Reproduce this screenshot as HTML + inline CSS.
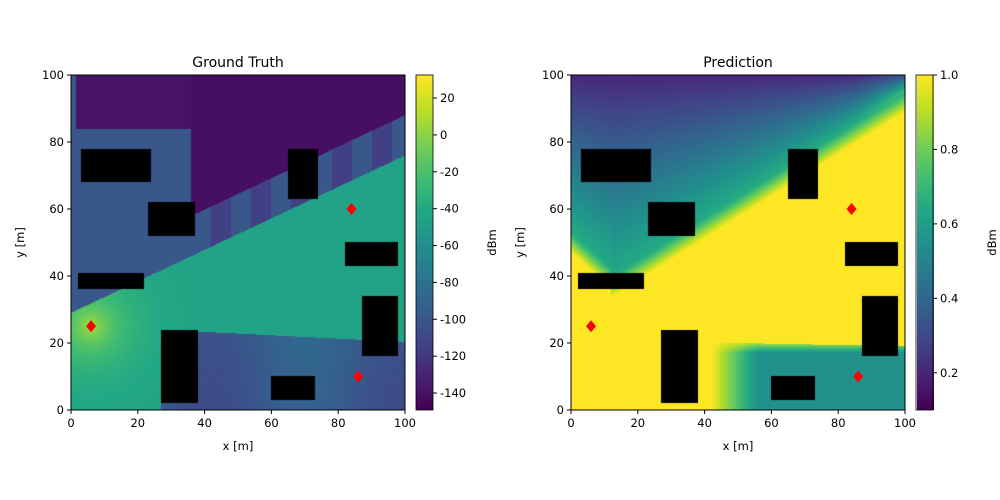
<!DOCTYPE html>
<html><head><meta charset="utf-8"><style>
body{margin:0;background:#fff;width:1000px;height:500px;position:relative;overflow:hidden;font-family:"DejaVu Sans",sans-serif}
canvas{position:absolute}
svg{position:absolute;left:0;top:0}
text{font-family:"DejaVu Sans",sans-serif;fill:#000}
</style></head><body>
<canvas id="hm1" style="left:71px;top:75px" width="334" height="335"></canvas>
<canvas id="hm2" style="left:571px;top:75px" width="334" height="335"></canvas>
<canvas id="cb1" style="left:416px;top:75px" width="17" height="335"></canvas>
<canvas id="cb2" style="left:917px;top:75px" width="17" height="335"></canvas>
<svg id="ov" width="1000" height="500"></svg>
<script>
const buildings=[[3,68,24,78],[23,52,37,62],[2,36,22,41],[65,63,74,78],[82,43,98,50],[87,16,98,34],[27,2,38,24],[60,3,73,10]];
const transmitters=[[6,25],[84,60],[86,10]];
const axisTicks=[0,20,40,60,80,100];
const cb1Ticks=[20,0,-20,-40,-60,-80,-100,-120,-140];
const cb2Ticks=[1.0,0.8,0.6,0.4,0.2];
const cb1Range=[-149.2,32.5];
const cb2Range=[0.1,1.0];
const titles=["Ground Truth","Prediction"];

const V=[[68,1,84],[72,36,117],[65,68,135],[53,95,141],[42,120,142],[33,145,140],[34,168,132],[68,190,112],[122,209,81],[189,223,38],[253,231,37]];
function vir(t){t=Math.max(0,Math.min(1,t));const f=t*10,i=Math.min(9,Math.floor(f)),r=f-i;const a=V[i],b=V[i+1];return[a[0]+(b[0]-a[0])*r,a[1]+(b[1]-a[1])*r,a[2]+(b[2]-a[2])*r];}
function inB(x,y){return buildings.some(b=>x>=b[0]&&x<=b[2]&&y>=b[1]&&y<=b[3]);}
function gt(x,y){
  const yb=29+0.47*x;
  const d=Math.hypot(x-6,y-25);
  if(x>27&&y<25-0.05*(x-6)&&y<yb){return -100+8*Math.sin(x/9)+4*(y/25);}
  if(y<yb){return -45+55*Math.exp(-d/9);}
  if(x<1.5)return -100;
  if(x<36){return y<84?-100:-140;}
  if(y<yb+12)return -100+((Math.floor(x/6))%2)*-15;
  return -142;
}
function pr(x,y){
  let yb=Math.max(26+0.63*x,x<12?47-0.9*x:0);
  if(x>38&&y<21-0.02*x){
    const s=Math.min(1,Math.max(0,(x-42)/14));
    const e=Math.min(1,Math.max(0,(21-y)/4));
    return 1-0.45*s*e;
  }
  if(y<=yb)return 1;
  const dy=y-yb;
  if(dy<6)return 1-0.35*dy/6;
  const top=Math.max(1,100-yb-6);
  let p=0.65-0.45*(dy-6)/top;
  if(x>85)p+=0.1*(x-85)/15;
  return Math.max(0.12,p);
}
function draw(id,f,lo,hi){
  const c=document.getElementById(id),g=c.getContext('2d'),W=c.width,H=c.height,im=g.createImageData(W,H);
  for(let j=0;j<H;j++)for(let i=0;i<W;i++){
    const x=(i+0.5)/W*100,y=100-(j+0.5)/H*100;
    const col=inB(x,y)?[0,0,0]:vir((f(x,y)-lo)/(hi-lo));
    const k=(j*W+i)*4;im.data[k]=col[0];im.data[k+1]=col[1];im.data[k+2]=col[2];im.data[k+3]=255;}
  g.putImageData(im,0,0);
}
draw('hm1',gt,cb1Range[0],cb1Range[1]);
draw('hm2',pr,cb2Range[0],cb2Range[1]);
function cbar(id){const c=document.getElementById(id),g=c.getContext('2d');for(let j=0;j<c.height;j++){const col=vir(1-j/(c.height-1));g.fillStyle=`rgb(${col.map(Math.round)})`;g.fillRect(0,j,c.width,1);}}
cbar('cb1');cbar('cb2');

const NS='http://www.w3.org/2000/svg',ov=document.getElementById('ov');
function el(t,a,txt){const e=document.createElementNS(NS,t);for(const k in a)e.setAttribute(k,a[k]);if(txt!==undefined)e.textContent=txt;ov.appendChild(e);return e;}
const top0=75,H0=335,W0=334,FS=11.5;
[71,571].forEach((left,pi)=>{
  const sx=v=>left+v/100*W0, sy=v=>top0+H0-v/100*H0;
  const t=el('text',{x:left+W0/2,y:67,'text-anchor':'middle','font-size':14},titles[pi]);
  
  
  transmitters.forEach(p=>{const cx=sx(p[0]),cy=sy(p[1]);
    const m=el('polygon',{points:`${cx},${cy-6} ${cx+5},${cy} ${cx},${cy+6} ${cx-5},${cy}`,fill:'#ff0000'});
    
    });
  const fr=el('rect',{x:left,y:top0,width:W0,height:H0,fill:'none',stroke:'#000','stroke-width':1});
  
  
  axisTicks.forEach(v=>{
    el('line',{x1:sx(v),x2:sx(v),y1:410,y2:414,stroke:'#000'});
    const a=el('text',{x:sx(v),y:427,'text-anchor':'middle','font-size':FS},v);
    
    
    el('line',{x1:left-4,x2:left,y1:sy(v),y2:sy(v),stroke:'#000'});
    const b=el('text',{x:left-7,y:sy(v)+4,'text-anchor':'end','font-size':FS},v);
    
    
  });
  const xl=el('text',{x:left+W0/2,y:450,'text-anchor':'middle','font-size':FS},'x [m]');
  
  
  const yl=el('text',{x:0,y:0,'text-anchor':'middle','font-size':FS,transform:`translate(${left-47},${top0+H0/2}) rotate(-90)`},'y [m]');
  
  
  const cl=left+345, ticks=pi?cb2Ticks:cb1Ticks, rg=pi?cb2Range:cb1Range;
  el('rect',{x:cl,y:top0,width:17,height:H0,fill:'none',stroke:'#000','stroke-width':0.8});
  ticks.forEach(v=>{const yy=top0+H0-(v-rg[0])/(rg[1]-rg[0])*H0;
    el('line',{x1:cl+17,x2:cl+21,y1:yy,y2:yy,stroke:'#000'});
    const c=el('text',{x:cl+24,y:yy+4,'font-size':FS},pi?v.toFixed(1):v);
    
    });
  const cbt=el('text',{x:0,y:0,'text-anchor':'middle','font-size':FS,transform:`translate(${cl+80},${top0+H0/2}) rotate(-90)`},'dBm');
  
  
});
</script>
</body></html>
